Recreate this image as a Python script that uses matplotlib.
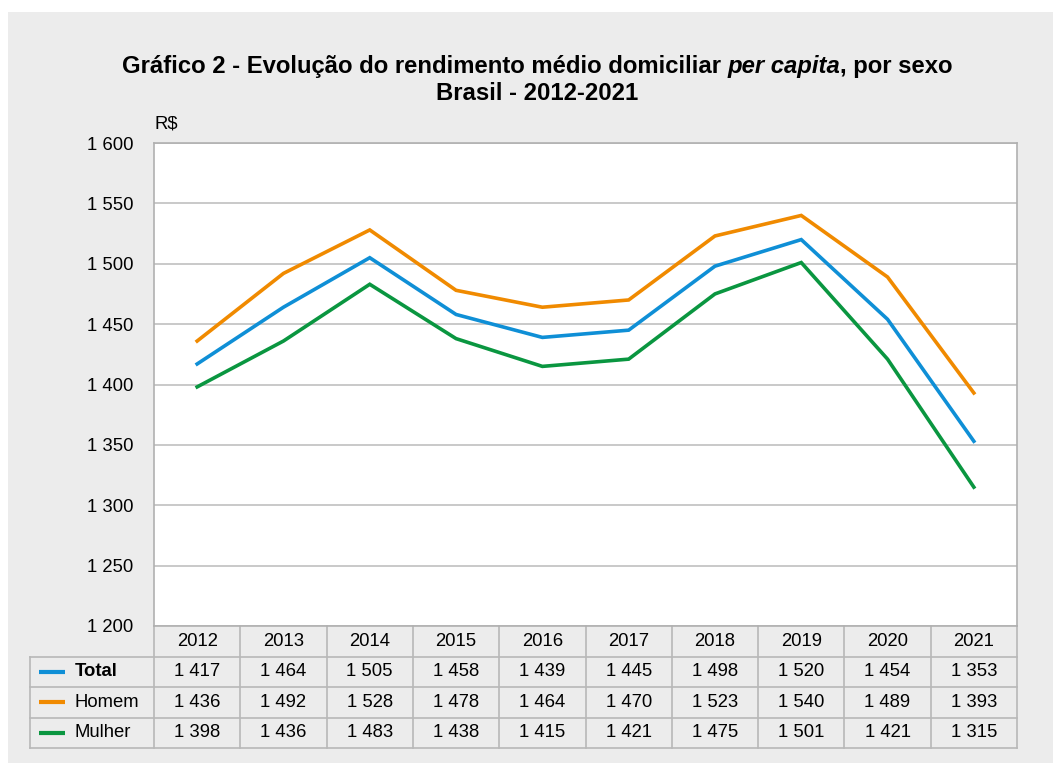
import numpy as np
import matplotlib.pyplot as plt
from matplotlib.transforms import blended_transform_factory

# =============================================================================
#                               Data
# =============================================================================
years = ['2012', '2013', '2014', '2015', '2016', '2017', '2018', '2019', '2020', '2021']
total = [1417, 1464, 1505, 1458, 1439, 1445, 1498, 1520, 1454, 1353]
homem = [1436, 1492, 1528, 1478, 1464, 1470, 1523, 1540, 1489, 1393]
mulher = [1398, 1436, 1483, 1438, 1415, 1421, 1475, 1501, 1421, 1315]

series_names = ['Total', 'Homem', 'Mulher']
series_vals = [total, homem, mulher]
colors = ['#0f8fd6', '#f08a00', '#0a9640']
yticks = [1200, 1250, 1300, 1350, 1400, 1450, 1500, 1550, 1600]

def fmt(v):
    return '{:,}'.format(v).replace(',', ' ')

plt.rcParams['font.family'] = ['Liberation Sans', 'DejaVu Sans']
FS = 13.3

W, H = 1053, 763
fig = plt.figure(figsize=(W/100, H/100), dpi=100)
fig.patch.set_facecolor('white')

# gray panel
fig.patches.append(plt.Rectangle((8/W, 0), 1 - 8/W, 1 - 12/H, transform=fig.transFigure,
                                 facecolor='#ececec', edgecolor='none', zorder=-10))

# plot area in pixels
x0, x1, ytop, ybot = 154, 1017, 143, 626
ax = fig.add_axes([x0/W, 1 - ybot/H, (x1 - x0)/W, (ybot - ytop)/H])
ax.set_facecolor('white')

x = np.arange(len(years))
for vals, c in zip(series_vals, colors):
    ax.plot(x, vals, color=c, lw=2.6, solid_joinstyle='miter', zorder=3)

ax.set_xlim(-0.5, len(years) - 0.5)
ax.set_ylim(1200, 1600)
ax.set_yticks(yticks)
ax.set_yticklabels([fmt(v) for v in yticks], fontsize=FS)
ax.set_xticks([])
ax.tick_params(axis='y', length=0, pad=15)
ax.yaxis.grid(True, color='#c0c0c0', lw=1.2)
ax.set_axisbelow(True)
for s in ax.spines.values():
    s.set_color('#b0b0b0')
    s.set_linewidth(1.2)

ax.text(0.001, 1.022, 'R$', transform=ax.transAxes, fontsize=FS, ha='left', va='bottom')

# =============================================================================
#                               Data table
# =============================================================================
tr = blended_transform_factory(ax.transData, ax.transAxes)
ph = ybot - ytop
row_h = 30.5 / ph
lab_left = -0.5 - (x0 - 30) / ((x1 - x0) / len(years))
grid_c = '#b8b8b8'

def hline(y, xa, xb):
    ax.plot([xa, xb], [y, y], color=grid_c, lw=1.2, transform=tr, clip_on=False)

def vline(xx, ya, yb):
    ax.plot([xx, xx], [ya, yb], color=grid_c, lw=1.2, transform=tr, clip_on=False)

# header row
for i, yr in enumerate(years):
    ax.text(i, -row_h / 2, yr, transform=tr, ha='center', va='center', fontsize=FS)
hline(-row_h, lab_left, len(years) - 0.5)
for r in range(1, 4):
    hline(-row_h * (r + 1), lab_left, len(years) - 0.5)
vline(lab_left, -row_h, -4 * row_h)
for i in range(len(years) + 1):
    vline(i - 0.5, 0, -4 * row_h)

for r, (name, vals, c) in enumerate(zip(series_names, series_vals, colors)):
    yc = -row_h * (r + 1.5)
    ax.plot([lab_left + 0.1, lab_left + 0.4], [yc, yc], color=c, lw=3,
            transform=tr, clip_on=False, solid_capstyle='butt')
    ax.text(lab_left + 0.52, yc, name, transform=tr, ha='left', va='center',
            fontsize=FS, fontweight='bold' if name == 'Total' else 'normal')
    for i, v in enumerate(vals):
        ax.text(i, yc, fmt(v), transform=tr, ha='center', va='center', fontsize=FS)

# title (mixed roman / italic pieces laid out side by side)
TFS = 17.2
tcx = 537
parts = [('Gráfico 2 - Evolução do rendimento médio domiciliar ', 'normal'),
         ('per capita', 'italic'),
         (', por sexo', 'normal')]
renderer = fig.canvas.get_renderer()
objs = [fig.text(0, 1 - 66/H, s, ha='left', va='center', fontsize=TFS,
                 fontweight='bold', fontstyle=st) for s, st in parts]
widths = [o.get_window_extent(renderer).width for o in objs]
xpos = tcx - sum(widths) / 2
for o, w in zip(objs, widths):
    o.set_x(xpos / W)
    xpos += w
fig.text(tcx / W, 1 - 93/H, 'Brasil - 2012-2021', ha='center', va='center', fontsize=TFS, fontweight='bold')

fig.savefig('out.png', dpi=100)
